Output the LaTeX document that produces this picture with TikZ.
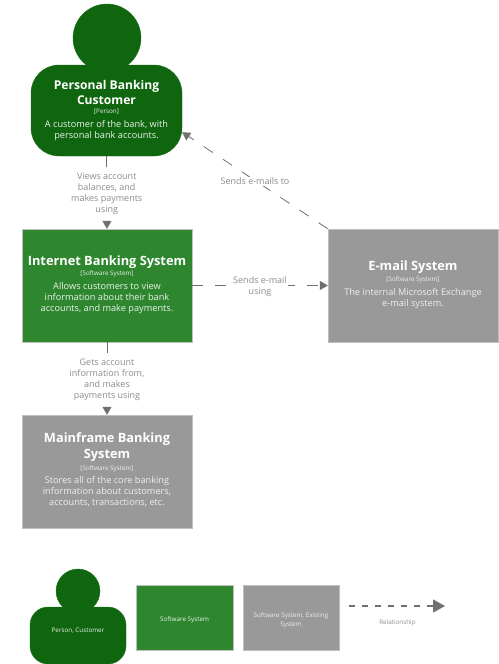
\documentclass[tikz,border=0pt]{standalone}
\usepackage{fontspec}
\setmainfont{Open Sans}
\usepackage{tikz}
\usetikzlibrary{arrows.meta}
\begin{document}
\begin{tikzpicture}[x=1pt,y=-1pt,
  personShape/.style={draw=personEdge,line width=0.4pt,fill=personColor,rounded corners=28pt,inner sep=0pt},
  boxShape/.style={draw=boxEdge,line width=0.4pt,inner sep=0pt,minimum width=170pt,minimum height=113pt},
  titleText/.style={text=white,align=center,inner sep=0pt,font=\fontsize{12.8}{15.4}\selectfont\bfseries},
  typeText/.style={text=descColor,align=center,inner sep=0pt,font=\fontsize{6.3}{7}\selectfont},
  descText/.style={text=descColor,align=center,inner sep=0pt,font=\fontsize{9.2}{11}\selectfont},
  legendText/.style={text=descColor,align=center,inner sep=0pt,font=\fontsize{6.3}{9}\selectfont},
  linkLabel/.style={text=labelColor,fill=white,align=center,inner sep=1pt,yshift=-1pt,font=\fontsize{9}{11}\selectfont},
  linkLine/.style={draw=linkColor,line width=0.8pt,dash pattern=on 11pt off 12pt,-{Triangle[length=8pt,width=9pt]}}]
\definecolor{personColor}{RGB}{15,102,15}
\definecolor{personEdge}{RGB}{30,115,30}
\definecolor{systemColor}{RGB}{46,135,46}
\definecolor{existingColor}{RGB}{153,153,153}
\definecolor{boxEdge}{RGB}{190,190,190}
\definecolor{descColor}{RGB}{235,240,235}
\definecolor{labelColor}{RGB}{140,140,140}
\definecolor{linkColor}{RGB}{112,112,112}
\path[use as bounding box,fill=white] (0,0) rectangle (498,664);

\node[personShape,circle,minimum size=68pt] (customerHead) at (107,38) {};

\node[personShape,minimum width=151pt,minimum height=91pt] (customerBody) at (106.5,110.5) {};

\node[titleText,font=\fontsize{12.1}{14.5}\selectfont\bfseries] (customerTitle) at (106.5,92.5) {Personal Banking\\Customer};

\node[typeText] (customerType) at (106.5,112) {[Person]};

\node[descText] (customerDesc) at (106.5,130.5) {A customer of the bank, with\\personal bank accounts.};

\node[boxShape,fill=systemColor] (internetBox) at (107,285.5) {};

\node[titleText] (internetTitle) at (107,262) {Internet Banking System};

\node[typeText] (internetType) at (107,274) {[Software System]};

\node[descText] (internetDesc) at (107,298) {Allows customers to view\\information about their bank\\accounts, and make payments.};

\node[boxShape,fill=existingColor] (mailBox) at (413,285.5) {};

\node[titleText] (mailTitle) at (413,267) {E-mail System};

\node[typeText] (mailType) at (413,279.5) {[Software System]};

\node[descText] (mailDesc) at (413,299) {The internal Microsoft Exchange\\e-mail system.};

\node[boxShape,fill=existingColor] (mainframeBox) at (107,471.5) {};

\node[titleText] (mainframeTitle) at (107,447) {Mainframe Banking\\System};

\node[typeText] (mainframeType) at (107,468.5) {[Software System]};

\node[descText] (mainframeDesc) at (107,492) {Stores all of the core banking\\information about customers,\\accounts, transactions, etc.};

\draw[linkLine] (customerBody.south) -- node[linkLabel] {Views account\\balances, and\\makes payments\\using} (internetBox.north);

\draw[linkLine] (internetBox.south) -- node[linkLabel] {Gets account\\information from,\\and makes\\payments using} (mainframeBox.north);

\draw[linkLine] (internetBox.east) -- node[linkLabel] {Sends e-mail\\using} (mailBox.west);

\draw[linkLine] (mailBox.north west) -- node[linkLabel] {Sends e-mails to} (customerBody.-16);

\node[personShape,circle,minimum size=44pt] (legendHead) at (78,591) {};

\node[personShape,rounded corners=18pt,minimum width=96pt,minimum height=57pt] (legendBody) at (78,635.5) {};

\node[legendText] (legendPerson) at (78,630.5) {Person, Customer};

\node[boxShape,fill=systemColor,minimum width=97pt,minimum height=65pt] (legendSystem) at (184.5,617.5) {};

\node[legendText] (legendSystemText) at (184.5,619.5) {Software System};

\node[boxShape,fill=existingColor,minimum width=96pt,minimum height=65pt] (legendExisting) at (291,617.5) {};

\node[legendText] (legendExistingText) at (291,620.5) {Software System, Existing\\System};

\coordinate (legendStart) at (349,606);

\coordinate (legendEnd) at (445,606);

\draw[draw=linkColor,line width=1.2pt,dash pattern=on 6pt off 7pt,-{Triangle[length=12pt,width=13pt]}] (legendStart) -- (legendEnd);

\node[legendText,text=labelColor] (legendLink) at (397.5,622.5) {Relationship};
\end{tikzpicture}
\end{document}
